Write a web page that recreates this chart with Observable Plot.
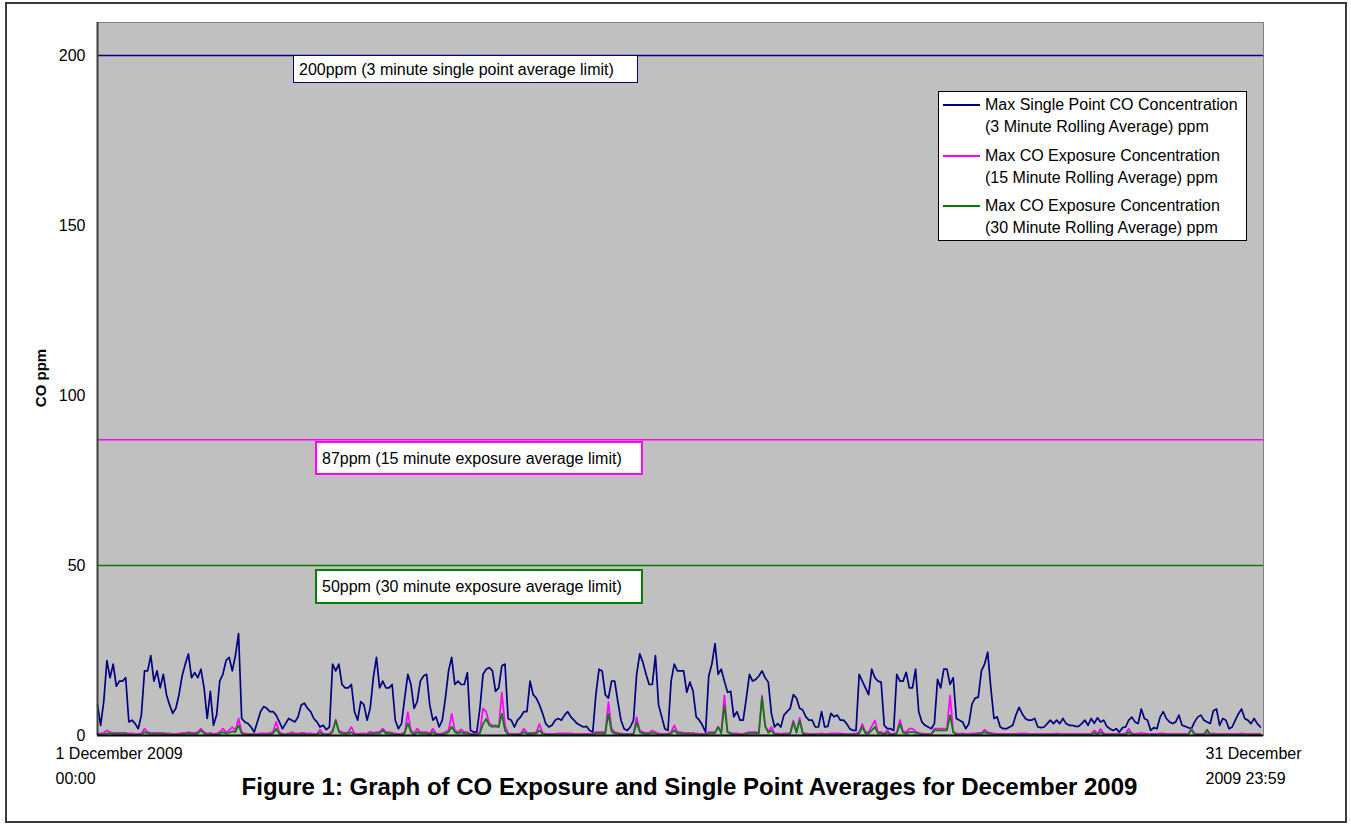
<!DOCTYPE html>
<html><head><meta charset="utf-8">
<script src="https://cdn.jsdelivr.net/npm/d3@7"></script>
<script src="https://cdn.jsdelivr.net/npm/@observablehq/plot@0.6"></script>
<style>
html,body{margin:0;padding:0;background:#fff;}
#wrap{position:relative;width:1351px;height:825px;font-family:"Liberation Sans",Arial,sans-serif;color:#000;overflow:hidden;}
#wrap svg{position:absolute;left:0;top:0;}
.outer{position:absolute;left:5px;top:2px;width:1338px;height:817px;border:2px solid #3c3c3c;box-sizing:content-box;}
.lbox{position:absolute;background:#fff;font-size:16px;white-space:nowrap;box-sizing:border-box;padding-left:5px;line-height:1;}
.legend{position:absolute;left:938px;top:91px;width:309px;height:150px;border:1px solid #000;background:#fff;box-sizing:border-box;}
.ltxt{position:absolute;font-size:16px;white-space:nowrap;line-height:1;}
.lsw{position:absolute;height:2px;}
.caption{position:absolute;left:0;width:1379px;top:773px;text-align:center;font-weight:bold;font-size:24px;line-height:28px;white-space:nowrap;}
.ylab{position:absolute;font-weight:bold;font-size:15px;white-space:nowrap;transform:translate(-50%,-50%) rotate(-90deg);}
</style></head><body><div id="wrap"></div>
<script>
// ---- data (2-hour samples starting 1 Dec 2009 00:00) ----
const sampleStepHours = 2;
const singlePoint3min = [
9,3,10,22,17,21,14.5,16,16,17,
4,4.5,3.5,2,6,19,19,23.5,16,19,
14,18,12,9,6.5,8,12,17.5,21,24,
17,18.5,17,19.5,14,5,13,3,6,16,
18,22,23,19,23.5,30,5,4,3.5,2.5,
1,4,7,8.5,8,7,7,6,4,2,
3.5,5,
4.5,4,5.5,9,9.5,8,7,5,4,2.5,
3,1.7,2.5,21,19,21,15,14,14,15,
7,4.5,10,9,4.5,8,17,23,14,16,
14,14,15,4.5,2,3.5,11,18,15,8,
10,16,17.5,18,9,4.5,5.5,2.5,4.5,11,
19,23,15,16,15,15,18.5,1.5,1,1,
8,18,
19.5,20,19,13,14,20.5,21,5,4.5,2.5,
4.5,5.5,7,7,16,12,11,9,6.5,3.5,
2.5,3,4.5,5,4.5,6,7,5.5,4.5,3.5,
3,2.5,2.7,1.5,1,12,19.5,19,12,11,
16,16,10,4.5,2,1.5,2.5,4.5,18,24,
21.5,18,15,15,23.5,9,5.5,2,1.5,16,
21,19,19,
19,12.7,15.7,13,5.5,4.5,3,1,17.5,21,
27,18,19.5,16,12.7,13,5.5,7,4.5,4.5,
11,18,16,16.5,17.5,19,17,15.7,6.5,2.5,
3.5,2.5,6,7,8,12,11,8,7.5,5.5,
4.5,4.5,2.5,2.5,7,2.5,2.7,6.5,5.5,6,
4.5,4.5,3.5,2,1.5,1.5,18,16,14,12,
19.5,17,
16,15.7,3,2,2,1.5,18,16,16,18.6,
14,14,19.5,7,4,3,2.5,2,3.5,16.5,
14,19.5,19.5,15,17,5,4.5,4,2,3.5,
9.3,11,11.3,19,21,24.5,14,5,5.5,2.5,
2,2,2.5,3,6,8.3,6.4,5,4.5,4.5,
5,2.5,2.3,2.5,3.5,4.5,3.5,4.5,3.5,5,
3.5,3,
3,2.7,2.7,3.5,4.5,3,5,3.6,5.2,4,
4.5,2.7,2,1.5,2,1,2.3,2.5,4.5,5.4,
4,3.5,7.8,5,4.5,1.5,2.3,2,5.4,7,
5,4,3.5,4,6,3,2.7,2.3,2,4,
5.4,6,4.5,4,3.5,7.3,7.8,3,5,4.5,
2,2.5,4.5,6.4,7.8,5,4.5,3.5,5,3.5,
2.5
];
const exposure15min = [
0.6,0.6,0.8,1.5,1,0.8,0.8,0.8,0.8,0.8,
0.6,0.6,0.5,0.5,0.6,2,1,0.8,0.8,0.8,
0.8,0.8,0.6,0.6,0.5,0.5,0.6,0.8,0.8,1,
0.8,0.8,1,2,1,0.6,0.8,0.5,0.6,1,
2,1,1.5,2.5,1.5,5,1,0.6,0.5,0.5,
0.5,0.5,0.6,0.6,0.6,0.8,1,4,1,0.5,
0.5,0.6,1,0.6,0.6,0.8,0.8,0.6,0.6,0.5,
0.5,1.7,0.5,0.5,0.5,1.5,4.7,1.5,1,0.8,
1,2.5,0.6,0.5,0.6,0.6,0.5,1.2,0.8,1,
1,2,1,1,0.8,0.6,0.5,0.5,1,6.9,
1.5,0.6,2,1,1,1,0.6,2,0.6,0.5,
0.6,1,1.5,6.4,1.5,1,1.8,1,1,0.5,
0.5,0.5,1,8,7,3.5,3,2.5,2.5,12.7,
3,0.6,0.5,0.5,0.5,0.6,2,0.8,0.8,0.8,
1,3.4,0.8,0.5,0.5,0.5,0.5,0.6,0.6,0.6,
0.6,0.6,0.5,0.5,0.5,0.5,0.5,0.5,0.5,1,
1,1,1,9.8,2,1,0.8,0.6,0.5,0.5,
0.5,0.6,5.4,1.5,1,0.8,0.8,1.5,1,0.6,
0.5,0.5,0.5,1,3,1,1,0.8,0.8,0.8,
0.8,0.6,0.5,0.5,0.5,1,1,1,2.6,1,
11.8,1,0.8,0.6,0.6,0.5,0.5,0.8,1,1,
1,1,11.8,2.5,1.2,2.5,0.6,0.6,0.5,0.6,
0.6,0.8,4.4,1,5.2,0.8,0.6,0.5,0.5,0.5,
0.5,0.6,0.5,0.5,0.6,0.6,0.6,0.6,0.5,0.5,
0.5,0.5,0.6,1,3.4,1,1,2.7,4.4,1,
1,0.6,1.5,0.5,0.5,1,4.6,1.2,1,2,
2,1.2,0.8,0.6,0.5,0.5,0.5,2,2,2,
2,2,11.8,1,0.6,0.5,0.6,0.5,0.5,0.6,
0.6,0.8,0.8,1.7,1,0.8,0.6,0.5,0.5,0.5,
0.5,0.5,0.5,0.5,0.6,0.6,0.6,0.5,0.5,0.5,
0.5,0.5,0.5,0.5,0.5,0.5,0.6,0.5,0.5,0.5,
0.5,0.5,0.5,0.5,0.5,0.5,0.5,0.5,1.5,0.6,
2,0.6,0.5,0.5,0.5,0.5,0.5,0.5,0.6,2,
0.6,0.5,0.6,0.8,0.6,0.5,0.5,0.5,0.5,0.6,
0.6,0.5,0.5,0.5,0.5,0.5,0.5,0.5,0.5,2,
0.6,0.5,0.5,0.5,0.6,0.5,0.6,0.5,0.5,0.5,
0.5,0.5,0.5,0.5,0.5,0.6,0.5,0.5,0.5,0.5,
0.5,0.5
];
const exposure30min = [
0.3,0.3,0.4,0.6,0.6,0.5,0.5,0.5,0.5,0.5,
0.3,0.3,0.3,0.3,0.3,1,0.6,0.5,0.5,0.5,
0.5,0.5,0.4,0.3,0.3,0.3,0.3,0.4,0.5,0.6,
0.5,0.5,0.6,1.5,0.6,0.3,0.4,0.3,0.3,0.5,
1,0.6,0.8,1.2,1,3,0.6,0.3,0.3,0.3,
0.3,0.3,0.3,0.3,0.3,0.4,0.6,2,0.5,0.3,
0.3,0.3,0.5,0.3,0.3,0.4,0.4,0.3,0.3,0.3,
0.3,0.8,0.3,0.3,0.3,1,4.4,1,0.6,0.5,
0.6,1,0.3,0.3,0.3,0.3,0.3,0.6,0.5,0.6,
0.6,1.5,0.6,0.6,0.5,0.3,0.3,0.3,0.6,3.6,
1,0.3,1,0.6,0.6,0.6,0.3,1,0.3,0.3,
0.3,0.6,1,2.6,1,0.6,1,0.6,0.6,0.3,
0.3,0.3,0.6,3.4,4.9,3,2.5,3,2.5,6.4,
1.5,0.3,0.3,0.3,0.3,0.3,1,0.5,0.5,0.5,
0.6,1.5,0.5,0.3,0.3,0.3,0.3,0.3,0.3,0.3,
0.3,0.3,0.3,0.3,0.3,0.3,0.3,0.3,0.3,0.6,
0.6,0.6,0.6,6.4,1.2,0.6,0.5,0.3,0.3,0.3,
0.3,0.3,3.9,1,0.6,0.5,0.5,0.8,0.6,0.3,
0.3,0.3,0.3,0.6,1.5,0.6,0.6,0.5,0.5,0.5,
0.5,0.3,0.3,0.3,0.3,0.6,0.6,0.6,2.5,0.6,
8.8,1,0.5,0.3,0.3,0.3,0.3,0.5,0.6,0.6,
0.6,0.6,11.3,3,0.8,1.5,0.3,0.3,0.3,0.3,
0.3,0.5,3.9,0.8,4.4,0.5,0.3,0.3,0.3,0.3,
0.3,0.3,0.3,0.3,0.3,0.3,0.3,0.3,0.3,0.3,
0.3,0.3,0.3,0.6,2.5,0.6,0.6,1.5,2.5,0.6,
0.6,0.3,0.8,0.3,0.3,0.6,3.4,0.8,0.6,1,
1,0.8,0.5,0.3,0.3,0.3,0.3,1.5,1.5,1.5,
1.5,1.5,5.9,1,0.3,0.3,0.3,0.3,0.3,0.3,
0.3,0.5,0.5,1,0.6,0.5,0.3,0.3,0.3,0.3,
0.3,0.3,0.3,0.3,0.3,0.3,0.3,0.3,0.3,0.3,
0.3,0.3,0.3,0.3,0.3,0.3,0.3,0.3,0.3,0.3,
0.3,0.3,0.3,0.3,0.3,0.3,0.3,0.3,0.8,0.3,
1,0.3,0.3,0.3,0.3,0.3,0.3,0.3,0.3,1,
0.3,0.3,0.3,0.3,0.3,0.3,0.3,0.3,0.3,0.3,
0.3,0.3,0.3,0.3,0.3,0.3,0.3,0.3,0.3,1.7,
0.3,0.3,0.3,0.3,1.7,0.3,0.3,0.3,0.3,0.3,
0.3,0.3,0.3,0.3,0.3,0.3,0.3,0.3,0.3,0.3,
0.3,0.3
];
const limitValues = [200, 87, 50];
const limitLabels = [
  "200ppm (3 minute single point average limit)",
  "87ppm (15 minute exposure average limit)",
  "50ppm (30 minute exposure average limit)"
];
const yTicks = [0, 50, 100, 150, 200];
const xTickLabels = ["1 December 2009\n00:00", "31 December\n2009 23:59"];
const seriesNames = [
  ["Max Single Point CO Concentration", "(3 Minute Rolling Average) ppm"],
  ["Max CO Exposure Concentration", "(15 Minute Rolling Average) ppm"],
  ["Max CO Exposure Concentration", "(30 Minute Rolling Average) ppm"]
];
const yAxisTitle = "CO ppm";
const captionText = "Figure 1: Graph of CO Exposure and Single Point Averages for December 2009";

// ---- styles ----
const colors = ["#000080", "#ff00ff", "#008000"];
const startTime = new Date(Date.UTC(2009, 11, 1, 0, 0));
const endTime = new Date(Date.UTC(2009, 11, 31, 23, 59));
const stepMs = sampleStepHours * 3600 * 1000;
const toRows = vals => vals.map((v, i) => ({time: new Date(startTime.getTime() + i * stepMs), value: v}));

const plot = Plot.plot({
  width: 1351, height: 825,
  marginLeft: 97, marginRight: 88, marginTop: 22, marginBottom: 90,
  style: {fontFamily: "'Liberation Sans', Arial, sans-serif", fontSize: "16px", background: "transparent", color: "#000", overflow: "visible"},
  x: {type: "utc", domain: [startTime, endTime], label: null},
  y: {domain: [0, 209.7], label: null},
  marks: [
    Plot.frame({fill: "#c0c0c0", stroke: "#808080"}),
    Plot.ruleY([limitValues[0]], {stroke: colors[0], strokeWidth: 1.5}),
    Plot.ruleY([limitValues[1]], {stroke: colors[1], strokeWidth: 1.5}),
    Plot.ruleY([limitValues[2]], {stroke: colors[2], strokeWidth: 1.5}),
    Plot.line(toRows(singlePoint3min), {x: "time", y: "value", stroke: colors[0], strokeWidth: 1.7}),
    Plot.line(toRows(exposure15min), {x: "time", y: "value", stroke: colors[1], strokeWidth: 1.7}),
    Plot.line(toRows(exposure30min), {x: "time", y: "value", stroke: colors[2], strokeWidth: 1.7}),
    Plot.ruleX([startTime], {stroke: "#404040", strokeWidth: 2}),
    Plot.ruleY([0], {stroke: "#000", strokeWidth: 2}),
    Plot.axisY(yTicks, {tickSize: 0, tickPadding: 12, fontSize: 16, label: null}),
    Plot.axisX([startTime], {tickSize: 0, tickPadding: 5, fontSize: 16, label: null, textAnchor: "start", dx: -42, lineHeight: 1.6, tickFormat: () => xTickLabels[0]}),
    Plot.axisX([endTime], {tickSize: 0, tickPadding: 5, fontSize: 16, label: null, textAnchor: "start", dx: -58, lineHeight: 1.6, tickFormat: () => xTickLabels[1]})
  ]
});

const wrap = document.getElementById("wrap");
wrap.appendChild(plot);
const y = plot.scale("y");

const outer = document.createElement("div");
outer.className = "outer";
wrap.appendChild(outer);

// limit label boxes
const boxLayout = [
  {left: 293, dy: 0, w: 345, h: 28, bw: 1.5, pt: 6},
  {left: 315, dy: 1.5, w: 328, h: 34, bw: 2, pt: 8},
  {left: 315, dy: 4.5, w: 328, h: 35, bw: 2, pt: 8}
];
limitValues.forEach((v, i) => {
  const L = boxLayout[i];
  const b = document.createElement("div");
  b.className = "lbox";
  b.style.left = L.left + "px";
  b.style.top = (y.apply(v) + L.dy) + "px";
  b.style.width = L.w + "px";
  b.style.height = L.h + "px";
  b.style.border = L.bw + "px solid " + colors[i];
  b.style.paddingTop = L.pt + "px";
  b.textContent = limitLabels[i];
  wrap.appendChild(b);
});

// legend
const leg = document.createElement("div");
leg.className = "legend";
wrap.appendChild(leg);
const legRowCenters = [105, 156, 206];
seriesNames.forEach((lines, i) => {
  const cy = legRowCenters[i];
  const sw = document.createElement("div");
  sw.className = "lsw";
  sw.style.left = "943px"; sw.style.width = "37px";
  sw.style.top = (cy - 1) + "px";
  sw.style.background = colors[i];
  wrap.appendChild(sw);
  lines.forEach((t, j) => {
    const d = document.createElement("div");
    d.className = "ltxt";
    d.style.left = "985px";
    d.style.top = (cy - 8 + j * 21.7) + "px";
    d.textContent = t;
    wrap.appendChild(d);
  });
});

// y-axis title
const yl = document.createElement("div");
yl.className = "ylab";
yl.style.left = "40px";
yl.style.top = "378px";
yl.textContent = yAxisTitle;
wrap.appendChild(yl);

// caption
const cap = document.createElement("div");
cap.className = "caption";
cap.textContent = captionText;
wrap.appendChild(cap);
</script></body></html>
